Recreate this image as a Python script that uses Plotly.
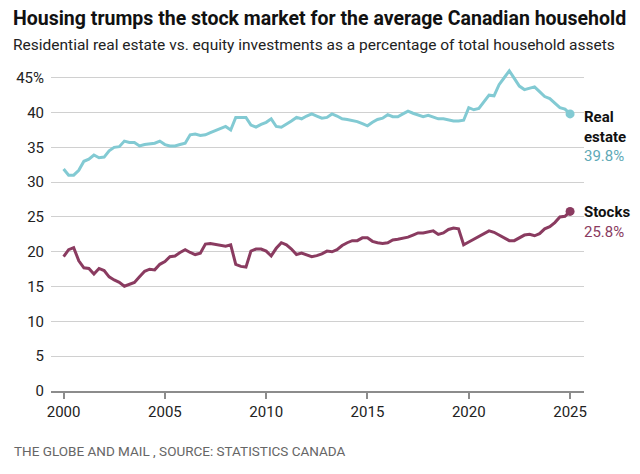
import plotly.graph_objects as go
import pandas as pd

# Quarterly observations, 2000 Q1 to 2025 Q1
quarters = pd.date_range("2000-01-01", periods=101, freq="QS")

real_estate = [
    31.9, 31.0, 31.0, 31.7, 33.0, 33.3, 33.9, 33.5, 33.6, 34.5,
    35.0, 35.1, 35.9, 35.7, 35.7, 35.2, 35.4, 35.5, 35.6, 35.9,
    35.4, 35.2, 35.2, 35.4, 35.6, 36.8, 36.9, 36.7, 36.8, 37.1,
    37.4, 37.7, 38.0, 37.5, 39.3, 39.3, 39.3, 38.2, 37.9, 38.3,
    38.6, 39.1, 38.0, 37.9, 38.3, 38.8, 39.3, 39.1, 39.5, 39.8,
    39.5, 39.2, 39.3, 39.8, 39.5, 39.1, 39.0, 38.9, 38.7, 38.4,
    38.1, 38.6, 39.0, 39.2, 39.7, 39.4, 39.4, 39.8, 40.2, 39.9,
    39.6, 39.4, 39.6, 39.3, 39.1, 39.1, 38.9, 38.8, 38.8, 38.9,
    40.7, 40.4, 40.6, 41.5, 42.5, 42.4, 44.0, 45.0, 46.0, 44.9,
    43.8, 43.3, 43.5, 43.7, 43.0, 42.3, 42.0, 41.3, 40.7, 40.5,
    39.8,
]

stocks = [
    19.3, 20.3, 20.6, 18.7, 17.7, 17.6, 16.8, 17.6, 17.3, 16.4,
    15.95, 15.6, 15.05, 15.3, 15.6, 16.4, 17.2, 17.5, 17.4, 18.2,
    18.6, 19.3, 19.4, 19.9, 20.3, 19.9, 19.6, 19.8, 21.1, 21.2,
    21.1, 20.9, 20.8, 21.0, 18.2, 17.9, 17.8, 20.1, 20.4, 20.4,
    20.1, 19.4, 20.5, 21.3, 21.0, 20.4, 19.6, 19.8, 19.6, 19.3,
    19.45, 19.7, 20.1, 20.0, 20.3, 20.9, 21.3, 21.6, 21.6, 22.0,
    22.0, 21.5, 21.3, 21.2, 21.3, 21.7, 21.8, 21.95, 22.1, 22.4,
    22.7, 22.7, 22.8, 23.0, 22.5, 22.7, 23.2, 23.4, 23.3, 21.0,
    21.4, 21.8, 22.2, 22.7, 23.0, 22.8, 22.4, 22.0, 21.6, 21.6,
    22.0, 22.4, 22.5, 22.3, 22.6, 23.3, 23.6, 24.2, 25.0, 25.1,
    25.8,
]

y_ticks = [0, 5, 10, 15, 20, 25, 30, 35, 40, 45]
y_tick_text = ["0", "5", "10", "15", "20", "25", "30", "35", "40", "45%"]

title = "Housing trumps the stock market for the average Canadian household"
subtitle = "Residential real estate vs. equity investments as a percentage of total household assets"
source = "THE GLOBE AND MAIL , SOURCE: STATISTICS CANADA"

RE_LINE = "#82cad3"
RE_TEXT = "#5ea9b6"
ST_LINE = "#8a3b60"
ST_TEXT = "#8a3b60"
FONT = "Roboto"

W, H = 640, 474
L, R, T, B = 51, 56, 68, 83

fig = go.Figure()
fig.add_trace(go.Scatter(x=quarters, y=real_estate, mode="lines",
                         line=dict(color=RE_LINE, width=3), hoverinfo="skip"))
fig.add_trace(go.Scatter(x=quarters, y=stocks, mode="lines",
                         line=dict(color=ST_LINE, width=3), hoverinfo="skip"))
fig.add_trace(go.Scatter(x=[quarters[-1]], y=[real_estate[-1]], mode="markers",
                         marker=dict(color=RE_LINE, size=9), hoverinfo="skip"))
fig.add_trace(go.Scatter(x=[quarters[-1]], y=[stocks[-1]], mode="markers",
                         marker=dict(color=ST_LINE, size=9), hoverinfo="skip"))

def px(x):
    return (x - L) / (W - L - R)

def py(y):
    return (H - B - y) / (H - T - B)

annotations = [
    dict(text=f"<b>{title}</b>", x=px(11), y=py(18), xref="paper", yref="paper",
         xanchor="left", yanchor="middle", showarrow=False,
         font=dict(family=FONT, size=19.5, color="#111111")),
    dict(text=subtitle, x=px(11), y=py(45), xref="paper", yref="paper",
         xanchor="left", yanchor="middle", showarrow=False,
         font=dict(family=FONT, size=15.5, color="#222222")),
    dict(text=source, x=px(12), y=py(451), xref="paper", yref="paper",
         xanchor="left", yanchor="middle", showarrow=False,
         font=dict(family=FONT, size=13.5, color="#666666")),
    dict(text=f"<b>Real</b><br><b>estate</b><br><span style='color:{RE_TEXT}'>{real_estate[-1]:.1f}%</span>",
         x=quarters[-1], y=real_estate[-1], xref="x", yref="y", xshift=12, yshift=8,
         xanchor="left", yanchor="top", align="left", showarrow=False,
         font=dict(family=FONT, size=15, color="#111111")),
    dict(text=f"<b>Stocks</b><br><span style='color:{ST_TEXT}'>{stocks[-1]:.1f}%</span>",
         x=quarters[-1], y=stocks[-1], xref="x", yref="y", xshift=12, yshift=10,
         xanchor="left", yanchor="top", align="left", showarrow=False,
         font=dict(family=FONT, size=15, color="#111111")),
]

fig.update_layout(
    width=W, height=H,
    margin=dict(l=L, r=R, t=T, b=B),
    paper_bgcolor="white", plot_bgcolor="white",
    showlegend=False,
    annotations=annotations,
    font=dict(family=FONT, size=15, color="#222222"),
)
fig.update_xaxes(
    range=["1999-05-19", "2025-09-09"],
    tickformat="%Y", dtick="M60", tick0="2000-01-01",
    showgrid=False, zeroline=False,
    showline=True, linecolor="#8c8c8c", linewidth=2,
    ticks="outside", ticklen=6, tickcolor="#8c8c8c", tickwidth=1.5,
    tickfont=dict(family=FONT, size=15, color="#222222"),
    fixedrange=True,
)
fig.update_yaxes(
    range=[0, 46.4],
    tickvals=y_ticks, ticktext=y_tick_text,
    showgrid=True, gridcolor="#d0d0d0", gridwidth=1,
    zeroline=False, showline=False, ticks="",
    ticklabelstandoff=6,
    tickfont=dict(family=FONT, size=15, color="#222222"),
    fixedrange=True,
)

fig.write_html(
    "out.html",
    config={"displayModeBar": False},
    post_script="document.body.style.margin='0';document.body.style.padding='0';",
)
